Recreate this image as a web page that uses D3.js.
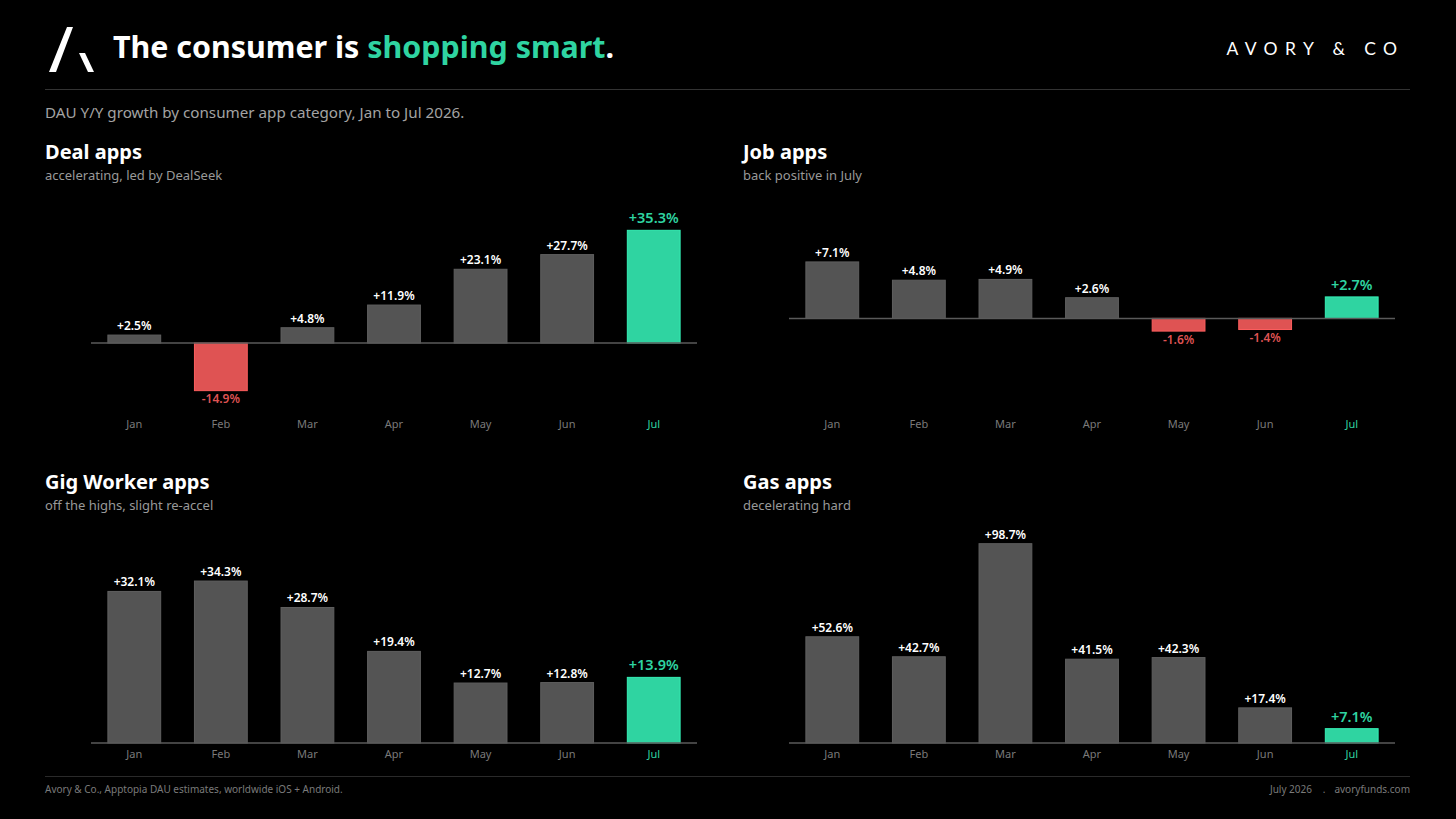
<!DOCTYPE HTML>
<html>
<head>
    <title>The consumer is shopping smart</title>
    <script src="https://d3js.org/d3.v7.min.js"></script>
    <style>
        body { margin: 0; background: #000; }
        svg { display: block; font-family: "Noto Sans", "Open Sans", sans-serif; }
    </style>
</head>
<body>

<svg id="chart"></svg>

<script>
    const months = ["Jan", "Feb", "Mar", "Apr", "May", "Jun", "Jul"];

    const panelTitles = ["Deal apps", "Job apps", "Gig Worker apps", "Gas apps"];
    const panelNotes = ["accelerating, led by DealSeek", "back positive in July",
                        "off the highs, slight re-accel", "decelerating hard"];

    const dealValues = [2.5, -14.9, 4.8, 11.9, 23.1, 27.7, 35.3];
    const jobValues = [7.1, 4.8, 4.9, 2.6, -1.6, -1.4, 2.7];
    const gigValues = [32.1, 34.3, 28.7, 19.4, 12.7, 12.8, 13.9];
    const gasValues = [52.6, 42.7, 98.7, 41.5, 42.3, 17.4, 7.1];

    // value extent of each panel's plot area
    const yDomains = [[-21.9, 49.8], [-11.9, 16.9], [0, 48.5], [0, 113.4]];

    const WIDTH = 1456;
    const HEIGHT = 819;
    const GREEN = "#2fd4a1";
    const RED = "#df5353";
    const GREY = "#545454";

    const svg = d3.select("#chart")
        .attr("width", WIDTH)
        .attr("height", HEIGHT);

    svg.append("rect")
        .attr("width", WIDTH)
        .attr("height", HEIGHT)
        .attr("fill", "#000");

    // header
    const logo = svg.append("g").attr("fill", "#fff");
    logo.append("polygon").attr("points", "67,27 73,27 56,72 49,72");
    logo.append("polygon").attr("points", "79,53 85,53 94,72 88,72");

    const title = svg.append("text")
        .attr("x", 113)
        .attr("y", 58)
        .attr("fill", "#fff")
        .style("font-size", "30.4px")
        .style("font-weight", 700);
    title.append("tspan").text("The consumer is ");
    title.append("tspan").attr("fill", GREEN).text("shopping smart");
    title.append("tspan").text(".");

    svg.append("text")
        .attr("x", 1397 + 7.4)
        .attr("y", 55)
        .attr("text-anchor", "end")
        .attr("fill", "#fff")
        .style("font-family", "Lato, 'Noto Sans', sans-serif")
        .style("font-size", "17.5px")
        .style("font-weight", 400)
        .style("letter-spacing", "7.4px")
        .text("AVORY & CO");

    svg.append("line")
        .attr("x1", 45).attr("x2", 1410)
        .attr("y1", 89.5).attr("y2", 89.5)
        .attr("stroke", "#333");

    svg.append("text")
        .attr("x", 45)
        .attr("y", 118)
        .attr("fill", "#a3a3a3")
        .style("font-size", "15.2px")
        .text("DAU Y/Y growth by consumer app category, Jan to Jul 2026.");

    // footer
    svg.append("line")
        .attr("x1", 45).attr("x2", 1410)
        .attr("y1", 776.5).attr("y2", 776.5)
        .attr("stroke", "#2a2a2a");

    const footer = svg.append("g")
        .attr("fill", "#7a7a7a")
        .style("font-size", "10px");

    footer.append("text")
        .attr("x", 45)
        .attr("y", 793)
        .text("Avory & Co., Apptopia DAU estimates, worldwide iOS + Android.");

    footer.append("text")
        .attr("x", 1410)
        .attr("y", 793)
        .attr("text-anchor", "end")
        .text("avoryfunds.com");

    footer.append("text")
        .attr("x", 1324)
        .attr("y", 793)
        .attr("text-anchor", "middle")
        .text(".");

    footer.append("text")
        .attr("x", 1312)
        .attr("y", 793)
        .attr("text-anchor", "end")
        .text("July 2026");

    function fmt(v) {
        return (v > 0 ? "+" : "") + v.toFixed(1) + "%";
    }

    function drawPanel(i, values) {
        const col = i % 2;
        const row = Math.floor(i / 2);
        const left = 45 + col * 698;
        const top = 152 + row * 330;
        const plotTop = 184 + row * 330;
        const plotBottom = 413 + row * 330;

        const g = svg.append("g");

        g.append("text")
            .attr("x", left)
            .attr("y", top + 7)
            .attr("fill", "#fff")
            .style("font-size", "20px")
            .style("font-weight", 700)
            .text(panelTitles[i]);

        g.append("text")
            .attr("x", left)
            .attr("y", top + 28)
            .attr("fill", "#999")
            .style("font-size", "13px")
            .text(panelNotes[i]);

        const x = d3.scaleBand()
            .domain(months)
            .range([left + 46, left + 652])
            .paddingInner(0.39)
            .paddingOuter(0.195);

        const y = d3.scaleLinear()
            .domain(yDomains[i])
            .range([plotBottom, plotTop]);

        const last = months.length - 1;
        const colorOf = (v, j) => j === last ? GREEN : (v < 0 ? RED : GREY);

        g.selectAll(".bar")
            .data(values)
            .join("rect")
            .attr("class", "bar")
            .attr("x", (d, j) => x(months[j]))
            .attr("width", x.bandwidth())
            .attr("y", d => y(Math.max(0, d)))
            .attr("height", d => Math.abs(y(d) - y(0)))
            .attr("fill", (d, j) => colorOf(d, j))
            .attr("stroke", (d, j) => d3.color(colorOf(d, j)).brighter(0.35))
            .attr("stroke-width", 1);

        g.append("line")
            .attr("x1", x.range()[0]).attr("x2", x.range()[1])
            .attr("y1", y(0)).attr("y2", y(0))
            .attr("stroke", "#5a5a5a")
            .attr("stroke-width", 1.5);

        g.selectAll(".val")
            .data(values)
            .join("text")
            .attr("class", "val")
            .attr("x", (d, j) => x(months[j]) + x.bandwidth() / 2)
            .attr("y", (d, j) => d < 0 ? y(d) + 12.5 : y(d) - (j === last ? 7 : 5))
            .attr("text-anchor", "middle")
            .attr("fill", (d, j) => j === last ? GREEN : (d < 0 ? RED : "#fff"))
            .style("font-size", (d, j) => j === last ? "14.5px" : "12px")
            .style("font-weight", 600)
            .text(d => fmt(d));

        const axis = g.append("g")
            .attr("transform", `translate(0,${plotBottom})`)
            .call(d3.axisBottom(x).tickSize(0).tickPadding(7));
        axis.select(".domain").remove();
        axis.selectAll("text")
            .attr("fill", (d, j) => j === last ? GREEN : "#7a7a7a")
            .style("font-family", "'Noto Sans', sans-serif")
            .style("font-size", "11px");
    }

    [dealValues, jobValues, gigValues, gasValues].forEach((values, i) => drawPanel(i, values));
</script>

</body>
</html>
